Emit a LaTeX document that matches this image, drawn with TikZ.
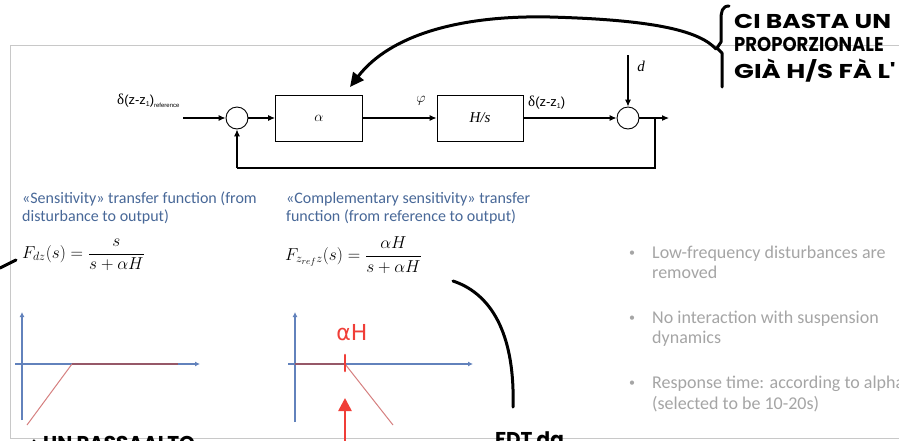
\documentclass[tikz,border=0pt]{standalone}
\usepackage{fontspec}
\setmainfont{Carlito}
\newfontfamily\handfont{Poppins}
\newfontfamily\dvfont{DejaVu Sans}
\newfontfamily\tnfont{Liberation Serif}
\newfontfamily\arfont{Liberation Sans}
\usetikzlibrary{arrows.meta}
\definecolor{slideblue}{RGB}{72,104,152}
\definecolor{bulletgray}{RGB}{165,165,165}
\definecolor{axisblue}{RGB}{98,130,188}
\definecolor{curvered}{RGB}{214,128,128}
\definecolor{overlapred}{RGB}{150,88,104}
\definecolor{penred}{RGB}{240,62,56}
\definecolor{framegray}{RGB}{200,200,200}
\begin{document}
\begin{tikzpicture}[x=1pt,y=-1pt,
  blockbox/.style={draw, line width=0.9pt, minimum width=87pt, minimum height=46pt, inner sep=0pt, font=\fontsize{15}{17}\selectfont},
  sumnode/.style={draw, circle, line width=0.9pt, minimum size=22pt, inner sep=0pt},
  sig/.style={line width=1.1pt, -{Latex[length=7pt,width=6pt]}},
  wire/.style={line width=1.1pt},
  lbl/.style={inner sep=0pt, font=\fontsize{15}{17}\selectfont},
  slidetext/.style={text=slideblue, font=\fontsize{16}{18}\selectfont, anchor=base west, inner sep=0pt},
  bullettext/.style={text=bulletgray, font=\fontsize{18}{20}\selectfont, anchor=base west, inner sep=0pt},
  bulletdot/.style={text=bulletgray, font=\fontsize{12}{14}\selectfont, anchor=base west, inner sep=0pt},
  formula/.style={anchor=west, inner sep=0pt, font=\fontsize{18}{21}\selectfont},
  axisline/.style={axisblue, line width=1.4pt, -{Latex[length=5pt,width=5pt]}},
  resp/.style={curvered, line width=1pt},
  overlap/.style={overlapred, line width=1.6pt},
  pen/.style={black, line width=3pt, line cap=round, line join=round},
  redpen/.style={penred, line width=2.6pt, line cap=round},
  handtext/.style={font=\handfont\bfseries\fontsize{20}{24}\selectfont, anchor=base west, inner sep=0pt}
]
\useasboundingbox (0,0) rectangle (899,440);
\clip (0,0) rectangle (899,440);
\fill[white] (0,0) rectangle (899,440);

% slide frame
\draw[framegray, line width=0.8pt] (899,45) -- (10,45) -- (10,438) -- (899,438);

% ---------------- block diagram ----------------
\coordinate (in) at (183,118);
\node[sumnode] (sum1) at (237,118) {};
\node[blockbox] (alpha) at (319,118) {$\alpha$};
\node[blockbox, minimum width=86pt] (hs) at (480,118) {\tnfont\itshape H/s};
\node[sumnode] (sum2) at (628,118) {};
\coordinate (dtop) at (628,55);
\coordinate (tap) at (655,118);
\coordinate (out) at (669,118);
\coordinate (fbr) at (655,168);
\coordinate (fbl) at (237,168);

\draw[sig] (in) -- (sum1);
\draw[sig] (sum1) -- (alpha);
\draw[sig] (alpha) -- (hs);
\draw[sig] (hs) -- (sum2);
\draw[sig] (dtop) -- (sum2);
\draw[sig] (sum2) -- (out);
\draw[wire] (tap) -- (fbr) -- (fbl);
\draw[sig] (fbl) -- (sum1);

\node[lbl, anchor=west] (reflbl) at (117,101) {{\tnfont δ}{\arfont\fontsize{13}{15}\selectfont (z-z\raisebox{-1.5pt}{\fontsize{7}{8}\selectfont 1})\raisebox{-2.5pt}{\fontsize{6}{7}\selectfont reference}}};
\node[lbl] (philbl) at (421,101) {$\varphi$};
\node[lbl, anchor=west] (outlbl) at (528,103) {{\tnfont δ}{\arfont\fontsize{13}{15}\selectfont (z-z\raisebox{-1.5pt}{\fontsize{7}{8}\selectfont 1})}};
\node[lbl] (dlbl) at (641,66) {\tnfont\itshape d};

% ---------------- handwritten note top right ----------------
\draw[pen] (729,6) .. controls (722,6) and (721,12) .. (721,20) -- (721,42) -- (717,48) -- (722,53) -- (722,87);
\coordinate (notestart) at (716,49);
\coordinate (notemid) at (550,17);
\coordinate (notetip) at (350,87);
\draw[pen, -{Triangle[length=14pt,width=13pt]}] (notestart) .. controls (700,32) and (660,20) .. (notemid) .. controls (460,15) and (390,35) .. (notetip);
\node[handtext] (h1) at (734,28) {\scalebox{1.25}[1]{CI BASTA UN}};
\node[handtext] (h2) at (734,51) {\scalebox{0.9}[1]{PROPORZIONALE}};
\node[handtext] (h3) at (734,78) {\scalebox{1.3}[1]{GIÀ H/S FÀ L'}};

% ---------------- slide texts ----------------
\node[slidetext] (s1a) at (22,203) {«Sensitivity» transfer function (from};
\node[slidetext] (s1b) at (22,221) {disturbance to output)};
\node[slidetext] (s2a) at (286,203) {«Complementary sensitivity» transfer};
\node[slidetext] (s2b) at (286,221) {function (from reference to output)};

\node[formula] (f1) at (22,255) {$\displaystyle F_{dz}(s)=\frac{s}{s+\alpha H}$};
\node[formula] (f2) at (285,255) {$\displaystyle F_{z_{ref}z}(s)=\frac{\alpha H}{s+\alpha H}$};

\node[bulletdot] (b1) at (629,256) {•};
\node[bullettext] (b1a) at (652,258) {Low-frequency disturbances are};
\node[bullettext] (b1b) at (652,278) {removed};
\node[bulletdot] (b2) at (629,321) {•};
\node[bullettext] (b2a) at (652,323) {No interaction with suspension};
\node[bullettext] (b2b) at (652,343) {dynamics};
\node[bulletdot] (b3) at (629,386) {•};
\node[bullettext] (b3a) at (652,388) {Response time: according to alpha};
\node[bullettext] (b3b) at (652,409) {(selected to be 10-20s)};

% ---------------- plot 1 ----------------
\draw[axisline] (22,420) -- (22,312);
\draw[axisline] (15,364) -- (200,364);
\draw[resp] (27,425) -- (72,364);
\draw[overlap] (72,364) -- (178,364);

% ---------------- plot 2 ----------------
\draw[axisline] (295,422) -- (295,312);
\draw[axisline] (288,364) -- (473,364);
\draw[overlap] (295,364) -- (345,364);
\draw[resp] (345,364) -- (393,425);
\draw[redpen] (345,355) -- (345,371);
\node[inner sep=0pt, text=penred, font=\dvfont\fontsize{22}{24}\selectfont] (ah) at (352,333) {αH};
\draw[redpen, -{Triangle[length=13pt,width=13pt]}] (345,445) -- (345,398);

% ---------------- other handwriting ----------------
\draw[pen] (0,268) -- (16,260);
\draw[pen] (453,281) .. controls (495,295) and (515,340) .. (513,407);
\node[handtext] (fdt) at (495,446) {FDT da};
\node[handtext] (pb) at (22,450) {{\dvfont\bfseries →} UN PASSAALTO};
\end{tikzpicture}
\end{document}
